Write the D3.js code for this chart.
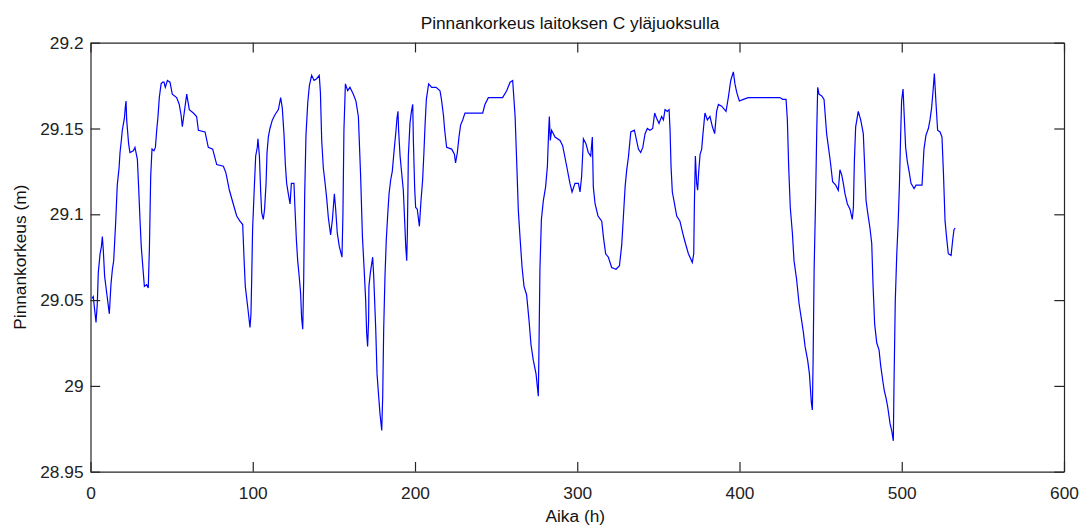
<!DOCTYPE html>
<html>
<head>
<meta charset="utf-8">
<script src="https://cdn.jsdelivr.net/npm/d3@7"></script>
<style>
  body { margin: 0; background: #fff; }
  svg { display: block; font-family: 'Liberation Sans', Arial, sans-serif; }
</style>
</head>
<body>
<div id="chart"></div>
<script>
// Water level upstream of plant C
const hours = [
  0.9, 1.7, 2.6, 3.4, 4.2, 4.8, 5.9, 6.7, 7.3, 7.9, 8.7, 10.0, 11.6, 12.6, 13.5, 14.3,
  15.5, 16.5, 17.6, 18.2, 19.0, 19.6, 20.9, 21.5, 21.9, 22.3, 23.5, 24.3, 26.4, 27.4,
  28.9, 29.7, 30.5, 31.3, 32.2, 33.2, 34.6, 35.6, 36.3, 37.1, 37.9, 39.1, 40.0, 40.8,
  41.6, 42.4, 43.5, 44.5, 45.3, 46.1, 47.4, 49.0, 50.4, 53.1, 54.7, 55.8, 56.6, 57.6,
  59.3, 60.9, 63.4, 65.4, 66.5, 70.6, 72.6, 75.3, 77.8, 81.9, 83.5, 85.6, 88.0, 90.1,
  92.1, 93.8, 94.6, 95.4, 96.9, 98.3, 98.9, 99.3, 99.9, 100.8, 101.8, 102.8, 103.2,
  104.1, 104.9, 105.5, 106.5, 107.3, 108.2, 108.8, 109.6, 110.6, 112.1, 113.7,
  115.8, 117.2, 118.2, 119.3, 120.1, 120.9, 121.9, 123.0, 123.8, 125.4, 126.0, 126.9,
  127.7, 128.7, 129.5, 130.1, 130.8, 131.4, 132.0, 132.8, 133.9, 134.9, 136.3, 137.8,
  139.4, 141.0, 141.7, 142.5, 143.5, 144.5, 145.6, 146.6, 148.0, 149.1, 150.3, 151.1,
  152.1, 153.4, 155.0, 155.6, 156.2, 157.1, 158.5, 159.9, 162.0, 163.6, 165.1, 166.5,
  167.6, 168.6, 169.6, 170.2, 170.8, 171.4, 171.6, 172.5, 173.9, 174.5, 175.8, 176.6,
  177.6, 178.4, 179.5, 180.1, 180.7, 181.5, 182.3, 183.2, 184.0, 185.0, 186.0, 187.3,
  188.3, 188.9, 189.5, 189.9, 190.8, 192.8, 193.6, 194.3, 194.9, 195.3, 195.9, 196.9,
  197.8, 198.6, 199.0, 199.8, 200.4, 201.4, 202.7, 203.7, 204.7, 205.5, 206.2, 207.0,
  208.4, 210.3, 213.0, 215.4, 216.3, 217.5, 218.3, 219.5, 222.6, 224.3, 225.0, 226.1,
  227.1, 228.1, 229.4,
  230.8, 241.7, 243.1, 245.2, 247.2, 254.0, 256.5, 258.6, 260.2, 261.7, 262.7, 263.7,
  264.7, 266.0, 267.2, 268.8, 270.3, 271.5, 272.9, 274.6, 276.0, 276.4, 277.0, 277.9,
  279.1, 280.5, 281.6, 282.4, 282.8, 283.4, 284.2, 286.3, 289.4, 291.0, 293.5, 295.5,
  296.8, 298.6, 300.7, 301.7, 302.7, 303.8, 305.4, 306.8, 308.3, 309.3, 309.9, 311.0,
  312.8, 315.1, 316.1, 317.5, 319.2, 321.2, 323.9, 326.0, 327.4, 328.4, 329.5, 330.5,
  331.5, 333.0, 335.2, 337.7, 339.1, 340.4, 341.8, 343.2,
  344.8, 346.5, 347.7, 348.9, 350.4, 352.0, 353.1, 354.1, 355.5, 356.6, 357.2, 357.8,
  358.6, 359.6, 361.3, 363.3, 365.0, 366.4, 368.5, 370.9, 371.8, 372.2, 372.8, 373.6,
  374.2, 374.8, 375.7, 376.7, 377.3, 378.7, 380.2, 381.8, 383.3, 384.7, 385.9, 387.0,
  389.0, 391.7, 393.1, 394.6, 396.2, 397.2, 398.3, 399.9, 402.4, 405.4, 410.6, 424.9,
  426.6, 428.7, 429.5, 430.3, 431.3, 432.6, 433.6, 435.2, 436.7, 438.3, 439.4, 440.4,
  442.0, 443.1, 444.3, 444.9, 445.4, 446.0, 446.8, 447.6, 448.2, 449.0, 450.7, 452.1,
  453.7, 455.4, 456.2, 457.4, 459.3, 460.9,
  461.9, 463.0, 464.0, 465.0, 466.5, 468.1, 469.5, 470.2, 470.8, 471.6, 473.2, 474.7,
  476.3, 477.1, 478.0, 479.0, 480.4, 481.5, 482.3, 483.3, 484.6, 486.0, 487.0, 488.3,
  489.3, 490.3, 491.3, 492.8, 493.8, 494.8, 495.2, 496.0, 496.9, 497.7, 498.5, 499.3,
  499.9, 500.8, 501.4, 502.4, 503.4, 504.7, 505.7, 507.6, 508.8, 512.5, 513.7, 514.9,
  516.4, 517.4, 518.4, 519.3, 520.1, 521.1, 522.1, 523.6, 524.8, 525.7, 526.7, 527.7,
  528.7, 530.4, 531.4, 532.2, 532.9
]

const levels = [
  29.051, 29.052, 29.044, 29.037, 29.048, 29.066, 29.077, 29.081, 29.087, 29.079, 29.064,
  29.054, 29.042, 29.059, 29.068, 29.073, 29.095, 29.117, 29.127, 29.136, 29.143, 29.149,
  29.156, 29.163, 29.166, 29.155, 29.141, 29.136, 29.137, 29.139, 29.132, 29.115, 29.097,
  29.081, 29.070, 29.058, 29.059, 29.057, 29.080, 29.122, 29.138, 29.137, 29.139, 29.149,
  29.157, 29.168, 29.176, 29.177, 29.177, 29.174, 29.178, 29.177, 29.170, 29.168, 29.164,
  29.158, 29.151, 29.158, 29.170, 29.161, 29.159, 29.157, 29.149, 29.148, 29.139, 29.138,
  29.129, 29.128, 29.124, 29.114, 29.106, 29.099, 29.096, 29.094, 29.075, 29.058, 29.046,
  29.034, 29.042, 29.060, 29.091, 29.112, 29.134, 29.139, 29.144, 29.134, 29.113, 29.101,
  29.097, 29.103, 29.118, 29.136, 29.145, 29.150, 29.155, 29.158,
  29.161, 29.168, 29.162, 29.146, 29.129, 29.118, 29.112, 29.106, 29.118, 29.118, 29.104,
  29.085, 29.073, 29.063, 29.054, 29.040, 29.033, 29.062, 29.111, 29.146, 29.165, 29.175,
  29.181, 29.178, 29.179, 29.181, 29.171, 29.143, 29.127, 29.119, 29.109, 29.098, 29.088,
  29.097, 29.112, 29.103, 29.089, 29.081, 29.075, 29.101, 29.149, 29.176, 29.172, 29.174,
  29.170, 29.166, 29.157, 29.122, 29.087, 29.069, 29.050, 29.031, 29.023, 29.038, 29.058,
  29.066, 29.075, 29.065, 29.033, 29.007, 28.994, 28.984, 28.974, 28.994, 29.033, 29.064,
  29.085, 29.100, 29.112, 29.120, 29.125, 29.139, 29.149, 29.156, 29.160, 29.149, 29.134,
  29.114, 29.097, 29.081, 29.073, 29.089, 29.134, 29.153, 29.160, 29.164, 29.143, 29.115,
  29.104, 29.103, 29.093, 29.108, 29.120, 29.136, 29.152, 29.167, 29.176, 29.174, 29.174,
  29.172, 29.167, 29.158, 29.149, 29.139, 29.138, 29.135, 29.130, 29.136, 29.145, 29.152,
  29.155,
  29.159, 29.159, 29.164, 29.168, 29.168, 29.168, 29.172, 29.177, 29.178, 29.157, 29.130,
  29.102, 29.087, 29.069, 29.058, 29.053, 29.038, 29.024, 29.015, 29.007, 28.994, 29.021,
  29.068, 29.097, 29.108, 29.116, 29.128, 29.149, 29.157, 29.143, 29.149, 29.145, 29.143,
  29.140, 29.128, 29.118, 29.113, 29.118, 29.118, 29.113, 29.122, 29.144, 29.141, 29.136,
  29.134, 29.145, 29.116, 29.106, 29.099, 29.096, 29.087, 29.077, 29.075, 29.069, 29.068,
  29.070, 29.082, 29.098, 29.116, 29.126, 29.133, 29.148, 29.149, 29.138, 29.136, 29.139,
  29.147, 29.150,
  29.149, 29.150, 29.159, 29.156, 29.153, 29.157, 29.155, 29.161, 29.160, 29.161, 29.149,
  29.128, 29.113, 29.108, 29.099, 29.096, 29.089, 29.084, 29.077, 29.072, 29.077, 29.106,
  29.134, 29.118, 29.114, 29.124, 29.135, 29.138, 29.145, 29.159, 29.155, 29.157, 29.151,
  29.147, 29.160, 29.164, 29.163, 29.160, 29.168, 29.178, 29.183, 29.176, 29.171, 29.166,
  29.167, 29.168, 29.168, 29.168, 29.167, 29.167, 29.155, 29.128, 29.104, 29.089, 29.073,
  29.062, 29.048, 29.038, 29.031, 29.023, 29.015, 29.007, 28.990, 28.986, 29.017, 29.068,
  29.104, 29.148, 29.174, 29.170, 29.169, 29.167, 29.147, 29.135, 29.129, 29.119, 29.117,
  29.114,
  29.126, 29.123, 29.118, 29.112, 29.106, 29.103, 29.097, 29.104, 29.131, 29.151, 29.160,
  29.155, 29.147, 29.129, 29.108, 29.101, 29.092, 29.083, 29.059, 29.036, 29.025, 29.021,
  29.012, 29.003, 28.997, 28.993, 28.988, 28.978, 28.974, 28.968, 28.999, 29.049, 29.076,
  29.093, 29.115, 29.145, 29.166, 29.173, 29.160, 29.139, 29.131, 29.124, 29.118, 29.115,
  29.117, 29.117, 29.138, 29.146, 29.150, 29.155, 29.162, 29.172, 29.182, 29.165, 29.149,
  29.148, 29.145, 29.124, 29.096, 29.086, 29.077, 29.076, 29.085, 29.091, 29.092
]

const xTicks = [0, 100, 200, 300, 400, 500, 600]
const yTicks = [28.95, 29, 29.05, 29.1, 29.15, 29.2]

const svgSize = { width: 1083, height: 529 }
const margin = { top: 42.7, right: 19, bottom: 57.3, left: 90.5 }
const graphSize = {
  width: svgSize.width - margin.left - margin.right,
  height: svgSize.height - margin.top - margin.bottom
}
const tickLen = 9.7
const axisColor = '#262626'

const data = hours.map((h, i) => ({ h, v: levels[i] }))

const svg = d3.select('#chart')
  .append('svg')
  .attr('width', svgSize.width)
  .attr('height', svgSize.height)

const g = svg.append('g')
  .attr('transform', `translate(${margin.left},${margin.top})`)

const x = d3.scaleLinear().domain([0, 600]).range([0, graphSize.width])
const y = d3.scaleLinear().domain([28.95, 29.2]).range([graphSize.height, 0])

// box background
g.append('rect')
  .attr('width', graphSize.width)
  .attr('height', graphSize.height)
  .attr('fill', '#fff')

// the series
g.append('path')
  .datum(data)
  .attr('fill', 'none')
  .attr('stroke', '#0000ff')
  .attr('stroke-width', 1.2)
  .attr('d', d3.line().x((d) => x(d.h)).y((d) => y(d.v)))

// matlab style axes: ticks pointing inward on all four sides
const styleAxis = (sel) => {
  sel.selectAll('path, line').attr('stroke', axisColor).attr('stroke-width', 1.2)
  sel.selectAll('text')
    .attr('fill', '#222')
    .style('font-size', '17.3px')
}

g.append('g')
  .attr('transform', `translate(0,${graphSize.height})`)
  .call(d3.axisBottom(x).tickValues(xTicks).tickFormat(d3.format('d'))
    .tickSizeInner(-tickLen).tickSizeOuter(0).tickPadding(15))
  .call(styleAxis)

g.append('g')
  .call(d3.axisTop(x).tickValues(xTicks).tickFormat('')
    .tickSizeInner(-tickLen).tickSizeOuter(0))
  .call(styleAxis)

g.append('g')
  .call(d3.axisLeft(y).tickValues(yTicks).tickFormat((d) => String(+d.toFixed(2)))
    .tickSizeInner(-tickLen).tickSizeOuter(0).tickPadding(7))
  .call(styleAxis)

g.append('g')
  .attr('transform', `translate(${graphSize.width},0)`)
  .call(d3.axisRight(y).tickValues(yTicks).tickFormat('')
    .tickSizeInner(-tickLen).tickSizeOuter(0))
  .call(styleAxis)

// title and labels
svg.append('text')
  .attr('x', 570)
  .attr('y', 29.3)
  .attr('text-anchor', 'middle')
  .style('font-size', '17.3px')
  .attr('fill', '#111')
  .text('Pinnankorkeus laitoksen C yläjuoksulla')

svg.append('text')
  .attr('x', margin.left + graphSize.width / 2 - 2)
  .attr('y', 522)
  .attr('text-anchor', 'middle')
  .style('font-size', '17.3px')
  .attr('fill', '#111')
  .text('Aika (h)')

svg.append('text')
  .attr('transform', `translate(26,${margin.top + graphSize.height / 2}) rotate(-90)`)
  .attr('text-anchor', 'middle')
  .style('font-size', '17.3px')
  .attr('fill', '#111')
  .text('Pinnankorkeus (m)')
</script>
</body>
</html>
